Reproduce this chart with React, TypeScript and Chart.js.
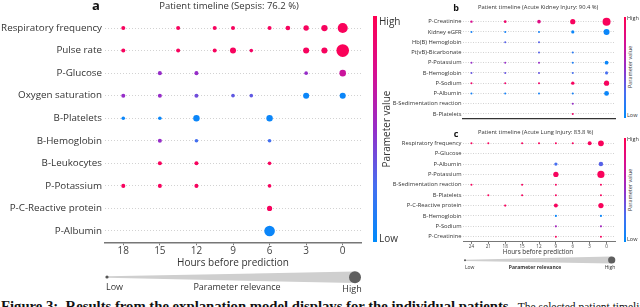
import React, { useEffect, useRef } from 'react';
import { Chart, registerables } from 'chart.js';
Chart.register(...registerables);

const FONT = '"Open Sans", "Noto Sans", sans-serif';
Chart.defaults.font.family = FONT;

// ---------- DATA ----------
// point tuples: [rowIndex, hoursBeforePrediction, parameterValue (0 low .. 1 high), relevance (0..1)]
const sepsisRows = ['Respiratory frequency', 'Pulse rate', 'P-Glucose', 'Oxygen saturation', 'B-Platelets', 'B-Hemoglobin', 'B-Leukocytes', 'P-Potassium', 'P-C-Reactive protein', 'P-Albumin'];
const sepsisTicks = [18, 15, 12, 9, 6, 3, 0];
const sepsisPoints = [
  [0, 18, 0.95, 0.32], [0, 13.5, 0.95, 0.32], [0, 10.5, 0.95, 0.32], [0, 9, 0.95, 0.32], [0, 6, 0.95, 0.32], [0, 4.5, 0.95, 0.37], [0, 3, 0.95, 0.43], [0, 1.5, 0.95, 0.5], [0, 0, 0.96, 0.8],
  [1, 18, 0.95, 0.32], [1, 13.5, 0.95, 0.32], [1, 10.5, 0.95, 0.32], [1, 9, 0.95, 0.48], [1, 7.5, 0.92, 0.29], [1, 3, 0.95, 0.48], [1, 1.5, 0.95, 0.48], [1, 0, 0.97, 1],
  [2, 15, 0.5, 0.32], [2, 12, 0.5, 0.32], [2, 3, 0.5, 0.29], [2, 0, 0.7, 0.52],
  [3, 18, 0.5, 0.32], [3, 15, 0.5, 0.32], [3, 12, 0.38, 0.32], [3, 9, 0.33, 0.29], [3, 7.5, 0.33, 0.29], [3, 3, 0.04, 0.48], [3, 0, 0.04, 0.48],
  [4, 18, 0.04, 0.29], [4, 15, 0.04, 0.29], [4, 12, 0.04, 0.51], [4, 6, 0.04, 0.51],
  [5, 15, 0.5, 0.32], [5, 12, 0.24, 0.29], [5, 6, 0.24, 0.29],
  [6, 15, 0.95, 0.32], [6, 12, 0.95, 0.32], [6, 6, 0.95, 0.29],
  [7, 18, 0.95, 0.32], [7, 15, 0.95, 0.32], [7, 12, 0.95, 0.32], [7, 6, 0.95, 0.29],
  [8, 6, 0.95, 0.41],
  [9, 6, 0.04, 0.84],
];

const akiRows = ['P-Creatinine', 'Kidney eGFR', 'Hb(B) Hemoglobin', 'Pt(vB)-Bicarbonate', 'P-Potassium', 'B-Hemoglobin', 'P-Sodium', 'P-Albumin', 'B-Sedimentation reaction', 'B-Platelets'];
const akiPoints = [
  [0, 24, 0.75, 0.3], [0, 18, 0.9, 0.33], [0, 12, 0.8, 0.45], [0, 6, 0.95, 0.65], [0, 0, 0.96, 1],
  [1, 24, 0.08, 0.25], [1, 18, 0.08, 0.25], [1, 12, 0.08, 0.25], [1, 6, 0.04, 0.4], [1, 0, 0.04, 0.75],
  [2, 18, 0.3, 0.25], [2, 12, 0.3, 0.25],
  [3, 12, 0.3, 0.25], [3, 6, 0.15, 0.25],
  [4, 24, 0.5, 0.25], [4, 18, 0.5, 0.25], [4, 12, 0.5, 0.25], [4, 6, 0.1, 0.25], [4, 0, 0.04, 0.48],
  [5, 24, 0.35, 0.25], [5, 18, 0.35, 0.25], [5, 12, 0.35, 0.25], [5, 6, 0.25, 0.25], [5, 0, 0.25, 0.38],
  [6, 24, 0.9, 0.25], [6, 18, 0.9, 0.25], [6, 12, 0.9, 0.25], [6, 6, 0.95, 0.42], [6, 0, 0.95, 0.65],
  [7, 24, 0.08, 0.25], [7, 18, 0.08, 0.25], [7, 12, 0.08, 0.25], [7, 6, 0.08, 0.25], [7, 0, 0.04, 0.6],
  [8, 6, 0.5, 0.25],
  [9, 6, 0.92, 0.25],
];

const aliRows = ['Respiratory frequency', 'P-Glucose', 'P-Albumin', 'P-Potassium', 'B-Sedimentation reaction', 'B-Platelets', 'P-C-Reactive protein', 'B-Hemoglobin', 'P-Sodium', 'P-Creatinine'];
const hourTicks24 = [24, 21, 18, 15, 12, 9, 6, 3, 0];
const aliPoints = [
  [0, 24, 0.95, 0.28], [0, 21, 0.95, 0.28], [0, 15, 0.95, 0.28], [0, 12, 0.95, 0.28], [0, 9, 0.95, 0.28], [0, 6, 0.95, 0.28], [0, 3, 0.95, 0.55], [0, 1, 0.96, 0.8],
  [2, 9, 0.25, 0.46], [2, 1, 0.3, 0.62],
  [3, 9, 0.95, 0.73], [3, 1, 0.96, 1],
  [4, 24, 0.95, 0.28], [4, 15, 0.95, 0.28], [4, 9, 0.95, 0.28], [4, 1, 0.95, 0.28],
  [5, 21, 0.95, 0.28], [5, 15, 0.95, 0.28], [5, 9, 0.95, 0.28], [5, 1, 0.95, 0.28],
  [6, 18, 0.95, 0.32], [6, 9, 0.95, 0.55], [6, 1, 0.96, 0.73],
  [7, 9, 0.04, 0.3], [7, 1, 0.04, 0.3],
  [8, 9, 0.55, 0.3], [8, 1, 0.55, 0.3],
  [9, 9, 0.95, 0.28], [9, 1, 0.95, 0.28],
];

// ---------- COLOUR MAP ----------
const cmapStops = [
  [0, [0, 139, 251]],
  [0.25, [70, 110, 240]],
  [0.5, [150, 45, 200]],
  [0.75, [215, 15, 145]],
  [1, [255, 0, 81]],
];
function cmap(v) {
  for (let i = 1; i < cmapStops.length; i++) {
    const [p1, c1] = cmapStops[i];
    const [p0, c0] = cmapStops[i - 1];
    if (v <= p1) {
      const t = (v - p0) / (p1 - p0);
      const c = c0.map((a, k) => Math.round(a + (c1[k] - a) * t));
      return `rgb(${c[0]},${c[1]},${c[2]})`;
    }
  }
  return 'rgb(255,0,81)';
}
const gradientCss = 'linear-gradient(to top,' + cmapStops.map(([p, c]) => `rgb(${c.join(',')}) ${p * 100}%`).join(',') + ')';

function buildConfig(s) {
  return {
    type: 'bubble',
    data: {
      datasets: [{
        data: s.points.map((p) => ({ x: p[1], y: p[0], r: p[3] * s.maxR })),
        backgroundColor: s.points.map((p) => cmap(p[2])),
        borderWidth: 0,
        hoverRadius: 0,
      }],
    },
    options: {
      animation: false,
      responsive: false,
      events: [],
      layout: { padding: s.padding },
      plugins: { legend: { display: false }, tooltip: { enabled: false }, title: { display: false } },
      scales: {
        x: {
          type: 'linear', reverse: true, min: s.xMin, max: s.xMax,
          afterBuildTicks: (sc) => { sc.ticks = s.ticks.map((v) => ({ value: v })); },
          afterFit: (sc) => { sc.height = s.xAxisHeight; },
          grid: { display: s.showX, drawOnChartArea: false, drawTicks: true, tickLength: s.tickLen, color: s.axisColor, lineWidth: 1 },
          border: { display: true, color: s.axisColor, width: s.axisWidth },
          ticks: { display: s.showX, font: { size: s.tickSize, family: FONT }, color: '#444', padding: s.tickPad, maxRotation: 0, autoSkip: false },
        },
        y: {
          type: 'linear', reverse: true, min: -0.5, max: s.rows.length - 0.5,
          afterBuildTicks: (sc) => { sc.ticks = s.rows.map((_, i) => ({ value: i })); },
          afterFit: (sc) => { sc.width = s.yAxisWidth; },
          grid: { color: '#d2d2d2', drawTicks: false, lineWidth: 1 },
          border: { display: false, dash: s.dash },
          ticks: { callback: (v) => s.rows[v], font: { size: s.labelSize, family: FONT }, color: '#333', padding: s.labelPad, autoSkip: false },
        },
      },
    },
  };
}

function Panel({ left, top, width, height, spec }) {
  const ref = useRef(null);
  useEffect(() => {
    const chart = new Chart(ref.current, buildConfig(spec));
    return () => chart.destroy();
  }, []);
  return (
    <canvas ref={ref} width={width} height={height}
      style={{ position: 'absolute', left, top, width, height }} />
  );
}

function T({ x, y, s, children, a = 'l', w = 400, c = '#333', rot = false, fam = FONT }) {
  const tx = a === 'l' ? '0' : a === 'c' ? '-50%' : '-100%';
  return (
    <div style={{
      position: 'absolute', left: x, top: y, whiteSpace: 'nowrap', lineHeight: 1,
      fontSize: s, fontWeight: w, color: c, fontFamily: fam,
      transform: `translate(${tx},-50%)${rot ? ' rotate(-90deg)' : ''}`,
    }}>{children}</div>
  );
}

function ColorBar({ x, top, bottom, w, s, labelX, titleX }) {
  return (
    <>
      <div style={{ position: 'absolute', left: x, top, width: w, height: bottom - top, background: gradientCss }} />
      <T x={labelX} y={top + s * 0.45} s={s}>High</T>
      <T x={labelX} y={bottom - s * 0.35} s={s}>Low</T>
      <T x={titleX} y={(top + bottom) / 2} s={s} a="c" rot>Parameter value</T>
    </>
  );
}

const specA = {
  rows: sepsisRows, ticks: sepsisTicks, points: sepsisPoints, maxR: 6.3,
  xMin: -1.5, xMax: 19.5, yAxisWidth: 105, xAxisHeight: 19.75,
  padding: { top: 16.75, right: 11, left: 0, bottom: 0 },
  showX: true, tickLen: 3, tickSize: 10, tickPad: 0, axisColor: '#777', axisWidth: 1.5,
  labelSize: 9.8, labelPad: 3, dash: [1, 2],
};
const specB = {
  rows: akiRows, ticks: hourTicks24, points: akiPoints, maxR: 4,
  xMin: -1.5, xMax: 25.5, yAxisWidth: 83, xAxisHeight: 3.8,
  padding: { top: 16.5, right: 5, left: 0, bottom: 0 },
  showX: false, tickLen: 2, tickSize: 5, tickPad: 0, axisColor: '#333', axisWidth: 1.2,
  labelSize: 5.8, labelPad: 1.5, dash: [1, 1.5],
};
const specC = {
  rows: aliRows, ticks: hourTicks24, points: aliPoints, maxR: 3.6,
  xMin: -1.5, xMax: 25.5, yAxisWidth: 83, xAxisHeight: 8.1,
  padding: { top: 12.1, right: 5, left: 0, bottom: 0 },
  showX: true, tickLen: 2, tickSize: 4.6, tickPad: 0, axisColor: '#777', axisWidth: 1,
  labelSize: 5.8, labelPad: 1.5, dash: [1, 1.5],
};

export default function App() {
  return (
    <div style={{ position: 'absolute', left: 0, top: 0, width: 640, height: 307, overflow: 'hidden', background: '#fff' }}>
      <svg width={640} height={307} style={{ position: 'absolute', left: 0, top: 0 }}>
        <polygon points="107,276.2 355,271.5 355,283 107,277.8" fill="#cfcfcf" />
        <circle cx={107} cy={277} r={1.6} fill="#555" />
        <circle cx={355} cy={277.3} r={6} fill="#5f5f5f" />
        <polygon points="465,259.7 611.7,256.5 611.7,263.5 465,260.9" fill="#cfcfcf" />
        <circle cx={465} cy={260.3} r={1} fill="#555" />
        <circle cx={611.7} cy={260} r={3.6} fill="#5f5f5f" />
      </svg>

      <Panel left={0} top={0} width={372} height={262} spec={specA} />
      <Panel left={380} top={0} width={240} height={124} spec={specB} />
      <Panel left={380} top={126} width={240} height={124} spec={specC} />

      {/* panel a texts */}
      <T x={96} y={5} s={13} w={700} a="c" c="#111">a</T>
      <T x={229} y={6} s={9.5} a="c">Patient timeline (Sepsis: 76.2 %)</T>
      <T x={233} y={262} s={10} a="c">Hours before prediction</T>
      <T x={106} y={285.5} s={9}>Low</T>
      <T x={237} y={285.5} s={9} a="c">Parameter relevance</T>
      <T x={352} y={287.5} s={9} a="c">High</T>
      <ColorBar x={372.7} top={16} bottom={241.7} w={4} s={10} labelX={379} titleX={386} />

      {/* panel b texts */}
      <T x={456} y={7} s={9} w={700} a="c" c="#111">b</T>
      <T x={478} y={8} s={5.8}>Patient timeline (Acute Kidney Injury: 90.4 %)</T>
      <ColorBar x={624} top={16.5} bottom={118} w={2} s={5.5} labelX={627} titleX={631} />

      {/* panel c texts */}
      <T x={456} y={133} s={9} w={700} a="c" c="#111">c</T>
      <T x={478} y={133} s={5.8}>Patient timeline (Acute Lung Injury: 83.8 %)</T>
      <T x={538} y={252.3} s={6.3} a="c">Hours before prediction</T>
      <T x={465} y={266.8} s={5}>Low</T>
      <T x={535} y={266.8} s={5} w={700} a="c">Parameter relevance</T>
      <T x={610} y={267} s={5} a="c">High</T>
      <ColorBar x={624} top={138} bottom={241.7} w={2} s={5.5} labelX={627} titleX={631} />

      {/* caption (cropped at the bottom of the picture) */}
      <div style={{ position: 'absolute', left: 1, top: 299, whiteSpace: 'nowrap', fontFamily: '"Liberation Serif", "DejaVu Serif", serif', fontSize: 14.7, lineHeight: '14.5px', color: '#111' }}>
        <b>Figure 3:&nbsp; Results from the explanation model displays for the individual patients.</b>
        <span style={{ fontSize: 11.5 }}>&nbsp; The selected patient timeline with</span>
      </div>
    </div>
  );
}
